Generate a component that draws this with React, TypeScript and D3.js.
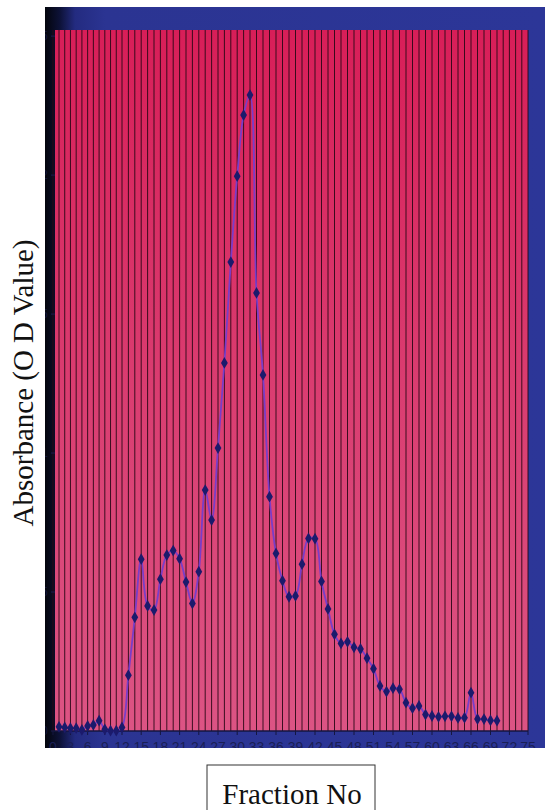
import React from "react";
import * as d3 from "d3";

// absorbance read per fraction (fraction 1..70)
const absorbance = [
  0.015, 0.013, 0.01, 0.01, 0.004, 0.018, 0.022, 0.037, 0.006, 0.001,
  0.001, 0.013, 0.201, 0.409, 0.618, 0.45, 0.435, 0.546, 0.633, 0.649,
  0.62, 0.536, 0.459, 0.573, 0.867, 0.759, 1.018, 1.324, 1.687, 1.996,
  2.216, 2.288, 1.576, 1.281, 0.843, 0.639, 0.541, 0.483, 0.486, 0.6,
  0.693, 0.692, 0.538, 0.439, 0.348, 0.315, 0.321, 0.301, 0.295, 0.262,
  0.224, 0.162, 0.142, 0.154, 0.15, 0.102, 0.082, 0.09, 0.059, 0.054,
  0.051, 0.053, 0.053, 0.047, 0.048, 0.138, 0.043, 0.043, 0.038, 0.037,
];
const xTicks = [0, 3, 6, 9, 12, 15, 18, 21, 24, 27, 30, 33, 36, 39, 42, 45, 48, 51, 54, 57, 60, 63, 66, 69, 72, 75];
const yTicks = [0, 0.5, 1, 1.5, 2, 2.5];
const yTickLabels = ["0", "0.5", "1", "1.5", "2", "2.5"];

const W = 545;
const H = 810;
const plot = { left: 55, right: 528, top: 30, bottom: 731 };

export default function App() {
  // the photographed sheet is a little uneven, so the scale is piecewise
  const x = d3
    .scaleLinear()
    .domain([0, 1, 12, 32, 70, 75])
    .range([53, 59, 122, 250, 497, 528]);
  const y = d3.scaleLinear().domain([0, 2.522]).range([plot.bottom, plot.top]);

  const pts = absorbance.map((v, i) => ({ f: i + 1, v }));
  const line = d3
    .line<{ f: number; v: number }>()
    .x((d) => x(d.f))
    .y((d) => y(d.v))
    .curve(d3.curveCatmullRom.alpha(0.5));
  const diamond = d3.symbol().type(d3.symbolDiamond).size(40)();
  const grid = d3.range(0, 76);

  return (
    <svg
      width={W}
      height={H}
      style={{ position: "absolute", left: 0, top: 0, background: "#fff" }}
    >
      <defs>
        <linearGradient id="bg" x1="0" x2="1" y1="0" y2="0">
          <stop offset="0%" stopColor="#03050c" />
          <stop offset="3%" stopColor="#0d1238" />
          <stop offset="6%" stopColor="#232b80" />
          <stop offset="12%" stopColor="#2b3492" />
          <stop offset="100%" stopColor="#2c3698" />
        </linearGradient>
        <linearGradient id="pink" x1="0" x2="0" y1="0" y2="1">
          <stop offset="0%" stopColor="#d81e58" />
          <stop offset="50%" stopColor="#da3c70" />
          <stop offset="100%" stopColor="#dc5484" />
        </linearGradient>
        <clipPath id="photo">
          <rect x={45} y={7} width={W - 45} height={741} />
        </clipPath>
      </defs>

      <g clipPath="url(#photo)">
        <rect x={45} y={7} width={W - 45} height={741} fill="url(#bg)" />
        <rect
          x={plot.left}
          y={plot.top}
          width={plot.right - plot.left}
          height={plot.bottom - plot.top}
          fill="url(#pink)"
        />
        {grid.map((g) => (
          <line
            key={g}
            x1={x(g)}
            x2={x(g)}
            y1={plot.top}
            y2={plot.bottom}
            stroke="#2a0816"
            strokeWidth={1}
            opacity={0.9}
          />
        ))}
        {/* y axis ticks, labels mostly hidden behind the edge */}
        {yTicks.map((t, i) => (
          <g key={t} transform={`translate(${plot.left},${y(t)})`}>
            <line x1={-4} x2={0} stroke="#1a1d50" />
            <text
              x={-7}
              dy="0.35em"
              textAnchor="end"
              fontFamily="Liberation Sans, Arial, sans-serif"
              fontSize={12}
              fill="#151a4a"
              opacity={0.7}
            >
              {yTickLabels[i]}
            </text>
          </g>
        ))}
        <line
          x1={plot.left}
          x2={plot.right}
          y1={plot.bottom}
          y2={plot.bottom}
          stroke="#141640"
          strokeWidth={1.5}
        />
        {xTicks.map((t) => (
          <g key={t} transform={`translate(${x(t)},${plot.bottom})`}>
            <line y1={0} y2={4} stroke="#141640" />
            <text
              y={21}
              textAnchor="middle"
              fontFamily="Liberation Sans, Arial, sans-serif"
              fontSize={14}
              fill="#1a1f55"
            >
              {t}
            </text>
          </g>
        ))}
        <path
          d={line(pts) || ""}
          fill="none"
          stroke="#7a3dc8"
          strokeWidth={1.8}
        />
        {pts.map((d) => (
          <path
            key={d.f}
            d={diamond || ""}
            transform={`translate(${x(d.f)},${y(d.v)})`}
            fill="#1b1a6c"
          />
        ))}
      </g>

      <text
        transform="translate(33,383) rotate(-90)"
        textAnchor="middle"
        fontFamily="Liberation Serif, Times New Roman, serif"
        fontSize={29}
        fill="#111"
      >
        Absorbance (O D Value)
      </text>

      <rect x={207} y={765} width={168} height={60} fill="none" stroke="#333" strokeWidth={1} />
      <text
        x={292}
        y={804}
        textAnchor="middle"
        fontFamily="Liberation Serif, Times New Roman, serif"
        fontSize={29}
        fill="#111"
      >
        Fraction No
      </text>
    </svg>
  );
}
